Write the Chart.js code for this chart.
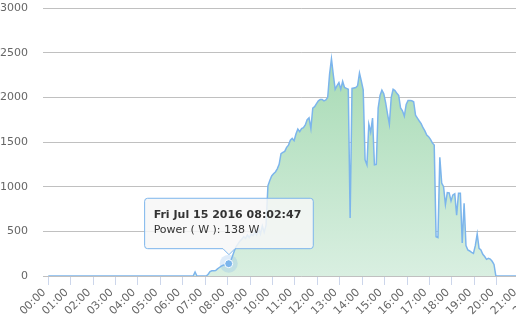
<!DOCTYPE html>
<html>
<head>
<meta charset="utf-8">
<script src="https://cdn.jsdelivr.net/npm/chart.js@4"></script>
<style>
  html, body { margin:0; padding:0; background:#fff; overflow:hidden; }
  #wrap { position:relative; width:560px; height:321px; }
</style>
</head>
<body>
<div id="wrap"><canvas id="powerChart"></canvas></div>
<script>
// readings: one every 5 minutes from sampleStart
const dateLabel = 'Fri Jul 15 2016';
const sampleStart = '06:27:47';
const sampleStepMin = 5;
const power = [
  0, 45, 0, 0, 0, 0, 0, 0, 20, 50,
  58, 60, 62, 80, 95, 110, 120, 125, 130, 138,
  165, 220, 280, 330, 360, 390, 410, 440, 420, 460,
  430, 470, 450, 500, 460, 530, 470, 560, 490, 570,
  1010, 1070, 1120, 1145, 1165, 1200, 1250, 1370, 1385, 1395,
  1440, 1465, 1520, 1540, 1515, 1590, 1645, 1615, 1650, 1660,
  1690, 1750, 1770, 1650, 1880, 1895, 1930, 1960, 1975, 1976,
  1960, 1970, 2000, 2260, 2430, 2250, 2090, 2130, 2165, 2090,
  2178, 2110, 2100, 2090, 650, 2100, 2105, 2110, 2130, 2272,
  2180, 2085, 1300, 1244, 1700, 1610, 1768, 1244, 1250, 1880,
  2020, 2080, 2040, 1940, 1815, 1700, 2000, 2090, 2075, 2045,
  2020, 1880, 1850, 1790, 1920, 1965, 1965, 1962, 1950, 1800,
  1768, 1735, 1705, 1660, 1625, 1578, 1560, 1530, 1490, 1465,
  440, 430, 1330, 1040, 1000, 800, 934, 930, 840, 908,
  920, 680, 927, 927, 370, 815, 340, 291, 280, 265,
  254, 340, 470, 310, 291, 243, 218, 187, 198, 190,
  165, 130, 0
];
// night readings outside the sampled window
const nightTimes = ['00:00:00', '23:57:47'];
const nightPower = [0, 0];
const hourTicks = ['00:00','01:00','02:00','03:00','04:00','05:00','06:00','07:00','08:00','09:00','10:00',
  '11:00','12:00','13:00','14:00','15:00','16:00','17:00','18:00','19:00','20:00','21:00','22:00'];
const yTicks = [0, 500, 1000, 1500, 2000, 2500, 3000];
const hoverTime = '08:02:47';

function toHours(t) {
  const p = t.split(':').map(Number);
  return p[0] + p[1] / 60 + (p[2] || 0) / 3600;
}
function hms(h) {
  const s = Math.round(h * 3600);
  const pad = n => String(n).padStart(2, '0');
  return pad(Math.floor(s / 3600)) + ':' + pad(Math.floor(s / 60) % 60) + ':' + pad(s % 60);
}

const startH = toHours(sampleStart);
const points = [{ x: toHours(nightTimes[0]), y: nightPower[0] }];
power.forEach((v, i) => points.push({ x: startH + i * sampleStepMin / 60, y: v }));
points.push({ x: toHours(nightTimes[1]), y: nightPower[1] });

const hoverIndex = points.findIndex(p => hms(p.x) === hoverTime);

const font = { family: 'DejaVu Sans', size: 11 };

// highcharts-like hover halo + marker
const hoverHalo = {
  id: 'hoverHalo',
  afterDatasetsDraw(chart) {
    const act = chart.getActiveElements();
    if (!act.length) return;
    const el = act[0].element;
    const c = chart.ctx;
    c.save();
    c.beginPath();
    c.arc(el.x, el.y, 9, 0, Math.PI * 2);
    c.fillStyle = 'rgba(124,181,236,0.25)';
    c.fill();
    c.beginPath();
    c.arc(el.x, el.y, 4, 0, Math.PI * 2);
    c.fillStyle = '#7cb5ec';
    c.fill();
    c.lineWidth = 1;
    c.strokeStyle = '#ffffff';
    c.stroke();
    c.restore();
  }
};

const chart = new Chart(document.getElementById('powerChart'), {
  type: 'line',
  data: {
    datasets: [{
      label: 'Power ( W )',
      data: points,
      borderColor: '#7cb5ec',
      borderWidth: 1.5,
      fill: 'origin',
      backgroundColor: ctx => {
        const area = ctx.chart.chartArea;
        if (!area) return '#c8e8d2';
        const g = ctx.chart.ctx.createLinearGradient(0, area.top, 0, area.bottom);
        g.addColorStop(0, '#9cd6aa');
        g.addColorStop(1, '#d9efe1');
        return g;
      },
      pointRadius: 0,
      pointHoverRadius: 0,
      tension: 0
    }]
  },
  options: {
    responsive: true,
    maintainAspectRatio: false,
    animation: false,
    events: [],
    layout: { padding: { top: 8, right: 0, left: 0, bottom: 0 } },
    plugins: {
      legend: { display: false },
      tooltip: {
        animation: false,
        backgroundColor: 'rgba(247,247,247,0.85)',
        borderColor: '#7cb5ec',
        borderWidth: 1,
        cornerRadius: 3,
        titleColor: '#333',
        bodyColor: '#333',
        titleFont: { family: 'DejaVu Sans', size: 11, weight: 'bold' },
        bodyFont: { family: 'DejaVu Sans', size: 11 },
        titleMarginBottom: 2,
        padding: { top: 10, bottom: 12, left: 9, right: 12 },
        caretSize: 6,
        caretPadding: 9,
        displayColors: false,
        xAlign: 'center',
        yAlign: 'bottom',
        callbacks: {
          title: items => dateLabel + ' ' + hms(items[0].parsed.x),
          label: item => item.dataset.label + ': ' + item.parsed.y + ' W'
        }
      }
    },
    scales: {
      x: {
        type: 'linear',
        min: -0.236,
        max: 22.79,
        afterBuildTicks: s => { s.ticks = hourTicks.map(t => ({ value: toHours(t) })); },
        afterFit: s => { s.height = 45; },
        ticks: {
          autoSkip: false,
          minRotation: 45,
          maxRotation: 45,
          padding: 1,
          labelOffset: -4,
          color: '#666',
          font: font,
          callback: v => hms(v).slice(0, 5)
        },
        grid: { drawOnChartArea: false, drawTicks: true, tickLength: 9, color: '#ccd6eb' },
        border: { display: false }
      },
      y: {
        min: 0,
        max: 3000,
        afterBuildTicks: s => { s.ticks = yTicks.map(v => ({ value: v })); },
        afterFit: s => { s.width = 43; },
        ticks: { padding: 0, color: '#666', font: font, callback: v => String(v) },
        grid: { color: '#c0c0c0', drawTicks: true, tickLength: 15, tickColor: 'rgba(0,0,0,0)' },
        border: { display: false }
      }
    }
  },
  plugins: [hoverHalo]
});

const active = [{ datasetIndex: 0, index: hoverIndex }];
chart.setActiveElements(active);
const el = chart.getDatasetMeta(0).data[hoverIndex];
chart.tooltip.setActiveElements(active, { x: el.x, y: el.y });
chart.update();
</script>
</body>
</html>
